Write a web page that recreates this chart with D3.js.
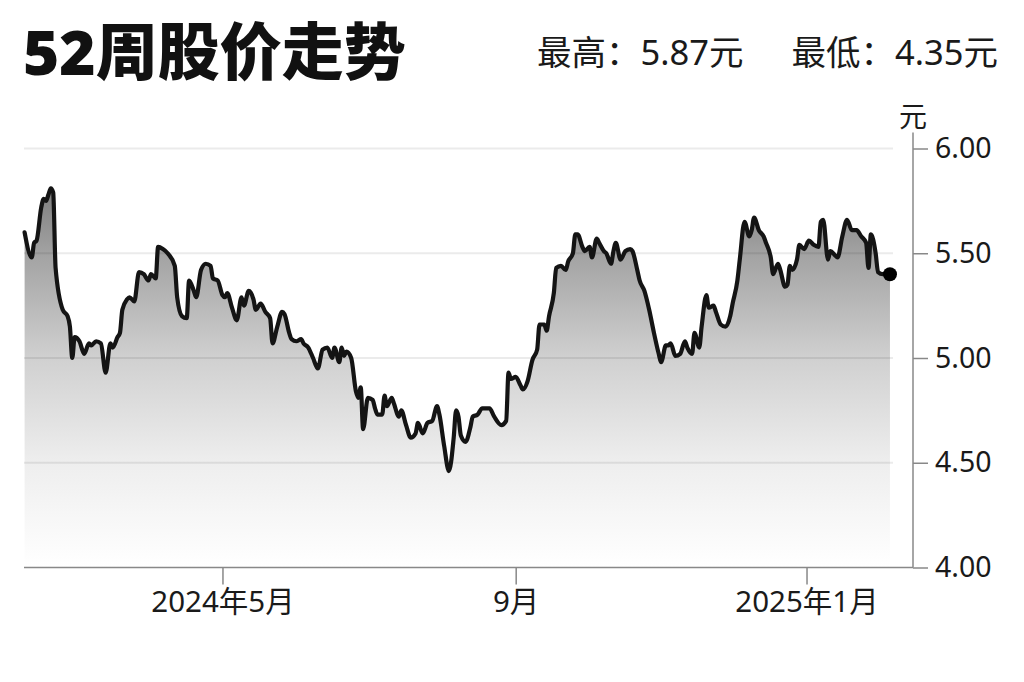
<!DOCTYPE html>
<html><head><meta charset="utf-8">
<script src="https://cdn.jsdelivr.net/npm/d3@7"></script>
<style>
body{margin:0;background:#fff;}
text{font-family:"Noto Sans","Noto Sans CJK SC",sans-serif;}
</style>
</head><body>
<svg id="c" width="1024" height="682"></svg>
<script>
const titleText = "52周股价走势";
const highText = "最高：5.87元";
const lowText = "最低：4.35元";
const unitText = "元";
const dates = ["2024-02-08","2024-02-11","2024-02-12","2024-02-13","2024-02-15","2024-02-16","2024-02-17","2024-02-18","2024-02-19","2024-02-20","2024-02-21","2024-02-24","2024-02-26","2024-02-27","2024-02-28","2024-02-29","2024-03-02","2024-03-04","2024-03-06","2024-03-07","2024-03-09","2024-03-11","2024-03-13","2024-03-15","2024-03-16","2024-03-18","2024-03-19","2024-03-20","2024-03-22","2024-03-23","2024-03-25","2024-03-27","2024-03-29","2024-03-31","2024-04-01","2024-04-03","2024-04-04","2024-04-06","2024-04-08","2024-04-11","2024-04-12","2024-04-14","2024-04-16","2024-04-17","2024-04-19","2024-04-20","2024-04-22","2024-04-24","2024-04-26","2024-04-27","2024-04-29","2024-05-01","2024-05-02","2024-05-03","2024-05-05","2024-05-07","2024-05-09","2024-05-10","2024-05-12","2024-05-14","2024-05-15","2024-05-17","2024-05-19","2024-05-21","2024-05-22","2024-05-24","2024-05-26","2024-05-27","2024-05-29","2024-05-30","2024-06-01","2024-06-03","2024-06-04","2024-06-06","2024-06-08","2024-06-10","2024-06-12","2024-06-14","2024-06-16","2024-06-17","2024-06-19","2024-06-20","2024-06-21","2024-06-22","2024-06-24","2024-06-26","2024-06-27","2024-06-28","2024-06-29","2024-07-01","2024-07-03","2024-07-04","2024-07-05","2024-07-07","2024-07-08","2024-07-09","2024-07-11","2024-07-12","2024-07-14","2024-07-15","2024-07-17","2024-07-19","2024-07-21","2024-07-22","2024-07-24","2024-07-26","2024-07-28","2024-07-30","2024-07-31","2024-08-02","2024-08-04","2024-08-06","2024-08-07","2024-08-08","2024-08-09","2024-08-11","2024-08-13","2024-08-14","2024-08-16","2024-08-18","2024-08-21","2024-08-23","2024-08-26","2024-08-28","2024-08-29","2024-08-30","2024-09-01","2024-09-03","2024-09-04","2024-09-06","2024-09-08","2024-09-10","2024-09-11","2024-09-13","2024-09-14","2024-09-15","2024-09-17","2024-09-18","2024-09-20","2024-09-22","2024-09-23","2024-09-25","2024-09-26","2024-09-27","2024-09-29","2024-09-30","2024-10-02","2024-10-03","2024-10-05","2024-10-06","2024-10-08","2024-10-09","2024-10-11","2024-10-12","2024-10-13","2024-10-15","2024-10-17","2024-10-19","2024-10-20","2024-10-22","2024-10-23","2024-10-25","2024-10-27","2024-10-29","2024-10-31","2024-11-01","2024-11-03","2024-11-04","2024-11-05","2024-11-07","2024-11-09","2024-11-11","2024-11-12","2024-11-14","2024-11-15","2024-11-17","2024-11-18","2024-11-20","2024-11-21","2024-11-23","2024-11-24","2024-11-26","2024-11-28","2024-11-30","2024-12-01","2024-12-03","2024-12-04","2024-12-06","2024-12-08","2024-12-09","2024-12-10","2024-12-12","2024-12-14","2024-12-15","2024-12-17","2024-12-18","2024-12-20","2024-12-21","2024-12-23","2024-12-24","2024-12-25","2024-12-26","2024-12-28","2024-12-29","2024-12-31","2025-01-02","2025-01-04","2025-01-06","2025-01-07","2025-01-08","2025-01-10","2025-01-11","2025-01-13","2025-01-14","2025-01-16","2025-01-18","2025-01-20","2025-01-22","2025-01-24","2025-01-26","2025-01-27","2025-01-28","2025-01-30","2025-01-31","2025-02-02","2025-02-04","2025-02-05"];
const prices = [5.60,5.48,5.55,5.56,5.72,5.76,5.75,5.78,5.81,5.79,5.43,5.23,5.20,5.15,5.00,5.10,5.08,5.02,5.07,5.06,5.08,5.07,4.93,5.07,5.05,5.10,5.12,5.23,5.28,5.29,5.27,5.41,5.40,5.37,5.40,5.38,5.53,5.52,5.50,5.44,5.29,5.20,5.19,5.37,5.32,5.29,5.42,5.45,5.44,5.38,5.37,5.30,5.29,5.31,5.24,5.18,5.29,5.25,5.32,5.28,5.23,5.26,5.22,5.19,5.07,5.15,5.22,5.21,5.12,5.09,5.08,5.09,5.07,5.05,5.00,4.95,5.04,5.05,5.00,5.05,4.98,5.05,5.01,5.03,5.00,4.84,4.81,4.86,4.66,4.81,4.80,4.76,4.73,4.73,4.82,4.77,4.81,4.78,4.72,4.75,4.68,4.62,4.64,4.69,4.64,4.69,4.70,4.77,4.73,4.58,4.46,4.62,4.75,4.72,4.63,4.60,4.67,4.72,4.73,4.76,4.76,4.72,4.68,4.70,4.93,4.90,4.91,4.87,4.85,4.89,4.99,5.04,5.16,5.16,5.13,5.20,5.31,5.43,5.44,5.42,5.46,5.50,5.59,5.59,5.53,5.51,5.53,5.48,5.57,5.55,5.51,5.50,5.45,5.51,5.55,5.47,5.51,5.52,5.51,5.42,5.37,5.32,5.23,5.12,5.02,4.98,5.06,5.06,5.07,5.01,5.02,5.08,5.05,5.02,5.12,5.05,5.15,5.30,5.24,5.25,5.22,5.16,5.15,5.20,5.26,5.37,5.47,5.65,5.58,5.61,5.67,5.61,5.58,5.55,5.48,5.40,5.45,5.42,5.34,5.35,5.44,5.42,5.47,5.54,5.52,5.56,5.54,5.53,5.65,5.66,5.47,5.51,5.49,5.48,5.58,5.66,5.61,5.61,5.58,5.55,5.43,5.59,5.50,5.41,5.40,5.40,5.40];
const xDomainDates = ["2024-02-08","2025-02-15"];
const yTicks = [4.0, 4.5, 5.0, 5.5, 6.0];
const gridValues = [4.5, 5.0, 5.5, 6.0];
const xTickDates = ["2024-05-01","2024-09-01","2025-01-01"];
const xTickLabels = ["2024年5月","9月","2025年1月"];

const FONT = '"Noto Sans","Noto Sans CJK SC",sans-serif';
const parse = d3.timeParse("%Y-%m-%d");
const data = dates.map((d,i)=>({date: parse(d), value: prices[i]}));

const svg = d3.select("#c");
const x = d3.scaleTime().domain(xDomainDates.map(parse)).range([24.6, 913.8]);
const y = d3.scaleLinear().domain([4, 6]).range([567.5, 148.5]);
const axisX = 913;
const gridEnd = 893;

// gradient
const defs = svg.append("defs");
const grad = defs.append("linearGradient").attr("id","fillGrad")
  .attr("gradientUnits","userSpaceOnUse").attr("x1",0).attr("x2",0)
  .attr("y1", y(5.83)).attr("y2", y(4.0));
const gStops = [[5.83,"#7b7b7b"],[5.5,"#a2a2a2"],[5.0,"#d0d0d0"],[4.5,"#eeeeee"],[4.0,"#ffffff"]];
const span = y(4.0) - y(5.83);
gStops.forEach(([v,c])=>grad.append("stop").attr("offset",(y(v)-y(5.83))/span).attr("stop-color",c));

// area
const area = d3.area().x(d=>x(d.date)).y0(y(4)).y1(d=>y(d.value)).curve(d3.curveMonotoneX);
svg.append("path").datum(data).attr("d",area).attr("fill","url(#fillGrad)");

// grid
svg.append("g").selectAll("line").data(gridValues).join("line")
  .attr("x1",24).attr("x2",gridEnd)
  .attr("y1",d=>y(d)).attr("y2",d=>y(d))
  .attr("stroke","rgba(0,0,0,0.08)").attr("stroke-width",2);

// line
const line = d3.line().x(d=>x(d.date)).y(d=>y(d.value)).curve(d3.curveMonotoneX);
svg.append("path").datum(data).attr("d",line).attr("fill","none")
  .attr("stroke","#141414").attr("stroke-width",4.2).attr("stroke-linejoin","round").attr("stroke-linecap","round");

// end dot
const last = data[data.length-1];
svg.append("circle").attr("cx",x(last.date)).attr("cy",y(last.value)).attr("r",7).attr("fill","#000");

// y axis
const yAxis = d3.axisRight(y).tickValues(yTicks).tickFormat(d3.format(".2f")).tickSize(15).tickPadding(7);
const gy = svg.append("g").attr("transform",`translate(${axisX},0)`).call(yAxis);
gy.select(".domain").remove();
gy.selectAll(".tick line").attr("stroke","#888").attr("stroke-width",1.5);
gy.selectAll(".tick text").attr("font-size",28.5).attr("fill","#1a1a1a").style("font-family",FONT);
svg.append("line").attr("x1",axisX).attr("x2",axisX).attr("y1",y(6)-16).attr("y2",y(4))
  .attr("stroke","#888").attr("stroke-width",1.5);

// x axis
const xAxis = d3.axisBottom(x).tickValues(xTickDates.map(parse))
  .tickFormat((d,i)=>xTickLabels[i]).tickSize(17).tickPadding(7);
const gx = svg.append("g").attr("transform",`translate(0,${y(4)})`).call(xAxis);
gx.select(".domain").remove();
gx.selectAll(".tick line").attr("stroke","#888").attr("stroke-width",1.5);
gx.selectAll(".tick text").attr("font-size",29.5).attr("fill","#1a1a1a").style("font-family",FONT);
svg.append("line").attr("x1",24).attr("x2",axisX).attr("y1",y(4)).attr("y2",y(4))
  .attr("stroke","#888").attr("stroke-width",1.5);

// unit
svg.append("text").attr("x",axisX).attr("y",127).attr("text-anchor","middle")
  .attr("font-size",28).attr("fill","#1a1a1a").text(unitText);

// title & header
svg.append("text").attr("x",23).attr("y",75).attr("font-size",62).attr("font-weight",900)
  .attr("fill","#111").text(titleText);
svg.append("text").attr("x",537).attr("y",65).attr("font-size",34.5).attr("fill","#1a1a1a").text(highText);
svg.append("text").attr("x",998).attr("y",65).attr("text-anchor","end").attr("font-size",34.5).attr("fill","#1a1a1a").text(lowText);
</script>
</body></html>
